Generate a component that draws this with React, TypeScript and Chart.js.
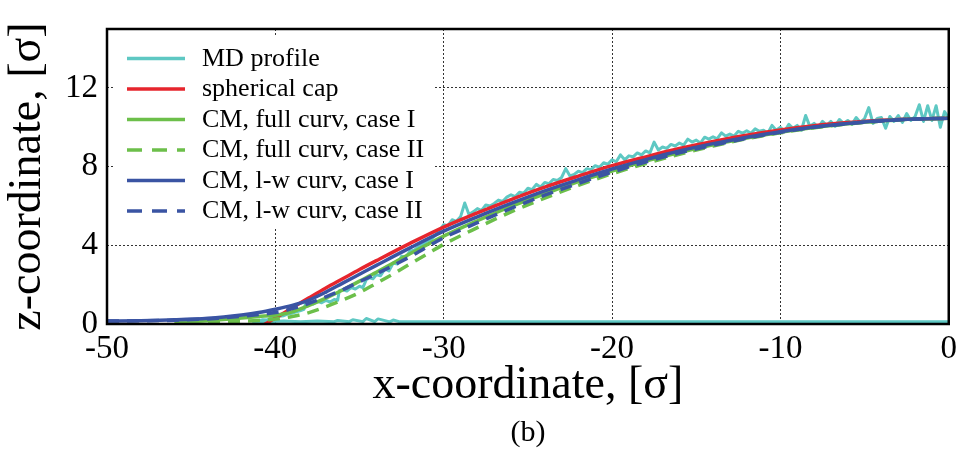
import React, { useEffect, useRef } from 'react';
import { Chart, registerables } from 'chart.js';

Chart.register(...registerables);

const FONT = '"Liberation Serif", "Times New Roman", Times, serif';

const xTicks = [-50, -40, -30, -20, -10, 0];
const yTicks = [0, 4, 8, 12];

const seriesLabels = [
  'MD profile',
  'spherical cap',
  'CM, full curv, case I',
  'CM, full curv, case II',
  'CM, l-w curv, case I',
  'CM, l-w curv, case II',
];

// MD droplet contour: substrate part (right to left), then free surface (left to right)
const mdProfile: number[][] = [
  [0, 0.12], [-4, 0.11], [-8, 0.12], [-12, 0.11], [-16, 0.12], [-20, 0.11], [-24, 0.12], [-28, 0.11],
  [-31, 0.12], [-32.6, 0.11], [-33, 0.2], [-33.2, 0.11], [-33.9, 0.26], [-34.1, 0.12], [-34.6, 0.28],
  [-34.8, 0.12], [-35.4, 0.22], [-35.6, 0.12], [-36.3, 0.18], [-36.5, 0.12], [-37.5, 0.15], [-38.5, 0.12],
  [-39.5, 0.15], [-40.5, 0.12], [-41.3, 0.12],
  [-41, 0.15], [-40.75, 0.22], [-40.5, 0.2], [-40.25, 0.3], [-40, 0.33], [-39.75, 0.4], [-39.5, 0.42],
  [-39.25, 0.52], [-39, 0.55], [-38.75, 0.62], [-38.5, 0.68], [-38.3, 0.75], [-38.2, 1.05], [-38, 1.1],
  [-37.75, 1.02], [-37.5, 1.15], [-37.25, 1.08], [-37, 1.2], [-36.75, 1.12], [-36.5, 1.25], [-36.3, 1.2],
  [-36.2, 1.7], [-36, 1.75], [-35.75, 1.68], [-35.5, 1.85], [-35.25, 1.78], [-35, 1.92], [-34.8, 1.85],
  [-34.6, 2.25], [-34.4, 2.35], [-34.2, 2.3], [-34, 2.5], [-33.75, 2.45], [-33.5, 2.8], [-33.25, 2.7],
  [-33, 3.1], [-32.75, 3.05], [-32.5, 3.45], [-32.25, 3.4], [-32, 3.7], [-31.75, 3.75], [-31.5, 3.95],
  [-31.25, 4.05], [-31, 4.2], [-30.75, 4.3], [-30.5, 4.5], [-30.25, 4.75],
  [-30, 5.05], [-29.75, 5.0], [-29.5, 5.3], [-29.25, 5.22],
  [-29, 5.45], [-28.75, 6.15], [-28.5, 5.57], [-28.25, 5.7],
  [-28, 5.87], [-27.75, 5.77], [-27.5, 6.05], [-27.25, 6.0],
  [-27, 6.13], [-26.75, 6.3], [-26.5, 6.23], [-26.25, 6.45],
  [-26, 6.57], [-25.75, 6.48], [-25.5, 6.7], [-25.25, 6.65],
  [-25, 6.9], [-24.75, 6.83], [-24.5, 7.1], [-24.25, 6.97],
  [-24, 7.2], [-23.75, 7.13], [-23.5, 7.35], [-23.25, 7.3],
  [-23, 7.45], [-22.75, 7.9], [-22.5, 7.53], [-22.25, 7.6],
  [-22, 7.77], [-21.75, 7.7], [-21.5, 7.9], [-21.25, 7.85],
  [-21, 8.05], [-20.75, 7.97], [-20.5, 8.2], [-20.25, 8.13],
  [-20, 8.35], [-19.75, 8.25], [-19.5, 8.6], [-19.25, 8.35],
  [-19, 8.55], [-18.75, 8.5], [-18.5, 8.7], [-18.25, 8.6],
  [-18, 8.8], [-17.75, 8.7], [-17.5, 9.25], [-17.25, 8.85],
  [-17, 9.0], [-16.75, 8.93], [-16.5, 9.13], [-16.25, 9.05],
  [-16, 9.2], [-15.75, 9.1], [-15.5, 9.4], [-15.25, 9.25],
  [-15, 9.35], [-14.75, 9.2], [-14.5, 9.5], [-14.25, 9.4],
  [-14, 9.52], [-13.75, 9.42], [-13.5, 9.72], [-13.25, 9.55],
  [-13, 9.66], [-12.75, 9.56], [-12.5, 9.8], [-12.25, 9.7],
  [-12, 9.83], [-11.75, 9.7], [-11.5, 9.92], [-11.25, 9.8],
  [-11, 9.85], [-10.75, 9.7], [-10.5, 10.1], [-10.25, 9.85],
  [-10, 10.0], [-9.75, 9.8], [-9.5, 10.15], [-9.25, 9.95],
  [-9, 10.1], [-8.75, 9.85], [-8.5, 10.6], [-8.25, 10.05],
  [-8, 10.2], [-7.75, 10.0], [-7.5, 10.3], [-7.25, 10.1],
  [-7, 10.3], [-6.75, 10.05], [-6.5, 10.4], [-6.25, 10.2],
  [-6, 10.35], [-5.75, 10.15], [-5.5, 10.5], [-5.25, 10.25],
  [-5, 10.45], [-4.75, 11.0], [-4.5, 10.2], [-4.25, 10.45],
  [-4, 10.5], [-3.75, 9.95], [-3.5, 10.55], [-3.25, 10.3],
  [-3, 10.6], [-2.75, 10.25], [-2.5, 10.7], [-2.25, 10.35],
  [-2, 10.55], [-1.75, 11.15], [-1.5, 10.3], [-1.25, 11.1],
  [-1, 10.35], [-0.75, 11.1], [-0.5, 10.0], [-0.25, 10.8],
  [0, 10.45],
];

const sphericalCap: number[][] = [
  [-40.7, -0.05], [-40, 0.3], [-39, 0.82], [-38, 1.33], [-37, 1.83], [-36, 2.3], [-35, 2.77], [-34, 3.22],
  [-32, 4.1], [-30, 4.93], [-28, 5.65], [-26, 6.33], [-24, 6.96], [-22, 7.52], [-20, 8.05], [-18, 8.5],
  [-16, 8.92], [-14, 9.28], [-12, 9.6], [-10, 9.87], [-8, 10.08], [-6, 10.24], [-4, 10.36], [-2, 10.43], [0, 10.46],
];

const fullCurvCaseI: number[][] = [
  [-46, 0.08], [-44, 0.17], [-42, 0.3], [-41, 0.38], [-40, 0.45], [-39, 0.62], [-38, 0.95], [-37, 1.32],
  [-36, 1.73], [-35, 2.18], [-34, 2.63], [-32, 3.57], [-30, 4.47], [-28, 5.25], [-26, 5.98], [-24, 6.62],
  [-22, 7.24], [-20, 7.78], [-18, 8.28], [-16, 8.72], [-14, 9.11], [-12, 9.45], [-10, 9.75], [-8, 9.99],
  [-6, 10.18], [-4, 10.32], [-2, 10.42], [0, 10.46],
];

const fullCurvCaseII: number[][] = [
  [-44, 0.1], [-42, 0.14], [-41, 0.18], [-40, 0.25], [-39, 0.38], [-38, 0.58], [-37, 0.88], [-36, 1.22],
  [-35, 1.6], [-34, 2.07], [-33, 2.55], [-32, 3.05], [-31, 3.55], [-30, 4.05], [-28, 4.9], [-26, 5.7],
  [-24, 6.4], [-22, 7.05], [-20, 7.64], [-18, 8.16], [-16, 8.63], [-14, 9.05], [-12, 9.42], [-10, 9.72],
  [-8, 9.98], [-6, 10.17], [-4, 10.32], [-2, 10.42], [0, 10.46],
];

const lwCurvCaseI: number[][] = [
  [-50, 0.15], [-48, 0.17], [-46, 0.21], [-44, 0.29], [-42, 0.46], [-41, 0.58], [-40, 0.75], [-39, 0.95],
  [-38, 1.22], [-37, 1.62], [-36, 2.08], [-35, 2.53], [-34, 2.98], [-32, 3.87], [-30, 4.72], [-28, 5.45],
  [-26, 6.13], [-24, 6.77], [-22, 7.34], [-20, 7.88], [-18, 8.36], [-16, 8.8], [-14, 9.17], [-12, 9.5],
  [-10, 9.78], [-8, 10.02], [-6, 10.2], [-4, 10.33], [-2, 10.42], [0, 10.46],
];

const lwCurvCaseII: number[][] = [
  [-50, 0.15], [-48, 0.16], [-46, 0.19], [-44, 0.26], [-42, 0.39], [-41, 0.48], [-40, 0.58], [-39, 0.78],
  [-38, 1.05], [-37, 1.38], [-36, 1.74], [-35, 2.15], [-34, 2.55], [-32, 3.42], [-30, 4.38], [-28, 5.15],
  [-26, 5.88], [-24, 6.55], [-22, 7.15], [-20, 7.72], [-18, 8.24], [-16, 8.7], [-14, 9.09], [-12, 9.44],
  [-10, 9.75], [-8, 10.0], [-6, 10.18], [-4, 10.32], [-2, 10.42], [0, 10.46],
];

const COLORS = {
  md: '#5ec8c3',
  red: '#e6252d',
  green: '#6cbf4a',
  blue: '#3a54a3',
};

const toXY = (arr: number[][]) => arr.map(([x, y]) => ({ x, y }));

const overlayPlugin = {
  id: 'overlay',
  beforeDatasetsDraw(chart: any) {
    const { ctx, chartArea: a } = chart;
    ctx.save();
    // legend box (covers the grid, sits under the data)
    ctx.fillStyle = '#ffffff';
    ctx.fillRect(a.left + 8, a.top + 8, 318, 190);
    chart.data.datasets.forEach((ds: any, i: number) => {
      const y = a.top + 29.5 + i * 30.5;
      ctx.beginPath();
      ctx.setLineDash(ds.borderDash ? [15, 10] : []);
      ctx.strokeStyle = ds.borderColor;
      ctx.lineWidth = 3.5;
      ctx.moveTo(a.left + 20, y);
      ctx.lineTo(a.left + 78, y);
      ctx.stroke();
      ctx.setLineDash([]);
      ctx.fillStyle = '#000';
      ctx.font = `26px ${FONT}`;
      ctx.textBaseline = 'alphabetic';
      ctx.textAlign = 'left';
      ctx.fillText(ds.label, a.left + 95, y + 7);
    });
    ctx.restore();
  },
  afterDatasetsDraw(chart: any) {
    const { ctx, chartArea: a } = chart;
    ctx.save();
    ctx.strokeStyle = '#000';
    ctx.lineWidth = 2.5;
    ctx.strokeRect(a.left, a.top, a.right - a.left, a.bottom - a.top);
    ctx.restore();
  },
  afterDraw(chart: any) {
    const { ctx, chartArea: a } = chart;
    ctx.save();
    ctx.fillStyle = '#000';
    ctx.font = `30px ${FONT}`;
    ctx.textAlign = 'center';
    ctx.textBaseline = 'alphabetic';
    ctx.fillText('(b)', (a.left + a.right) / 2, 441);
    ctx.restore();
  },
};

export default function App() {
  const ref = useRef<HTMLCanvasElement | null>(null);

  useEffect(() => {
    if (!ref.current) return;
    const base = {
      pointRadius: 0,
      pointHoverRadius: 0,
      fill: false,
      borderWidth: 3.5,
    };
    const chart = new Chart(ref.current, {
      type: 'line',
      data: {
        datasets: [
          { ...base, label: seriesLabels[0], data: toXY(mdProfile), borderColor: COLORS.md, borderWidth: 3, tension: 0, borderJoinStyle: 'round', order: 6 },
          { ...base, label: seriesLabels[1], data: toXY(sphericalCap), borderColor: COLORS.red, cubicInterpolationMode: 'monotone', order: 5 },
          { ...base, label: seriesLabels[2], data: toXY(fullCurvCaseI), borderColor: COLORS.green, cubicInterpolationMode: 'monotone', order: 4 },
          { ...base, label: seriesLabels[3], data: toXY(fullCurvCaseII), borderColor: COLORS.green, borderDash: [12, 8], cubicInterpolationMode: 'monotone', order: 3 },
          { ...base, label: seriesLabels[4], data: toXY(lwCurvCaseI), borderColor: COLORS.blue, cubicInterpolationMode: 'monotone', order: 1 },
          { ...base, label: seriesLabels[5], data: toXY(lwCurvCaseII), borderColor: COLORS.blue, borderDash: [12, 8], cubicInterpolationMode: 'monotone', order: 2 },
        ] as any,
      },
      options: {
        animation: false,
        responsive: true,
        maintainAspectRatio: false,
        layout: { padding: { top: 29, right: 10, left: 0, bottom: 0 } },
        plugins: {
          legend: { display: false },
          tooltip: { enabled: false },
        },
        scales: {
          x: {
            type: 'linear',
            min: -50,
            max: 0,
            afterBuildTicks: (s: any) => { s.ticks = xTicks.map((v) => ({ value: v })); },
            afterFit: (s: any) => { s.height = 126; },
            ticks: {
              color: '#000',
              font: { family: FONT, size: 33 },
              padding: 6,
              maxRotation: 0,
              autoSkip: false,
            },
            grid: { color: '#333', lineWidth: 1, drawTicks: false },
            border: { display: false, dash: [2, 2] },
            title: {
              display: true,
              text: 'x-coordinate, [σ]',
              color: '#000',
              font: { family: FONT, size: 46 },
              padding: { top: 0, bottom: 36 },
            },
          },
          y: {
            type: 'linear',
            min: 0,
            max: 15,
            afterBuildTicks: (s: any) => { s.ticks = yTicks.map((v) => ({ value: v })); },
            afterFit: (s: any) => { s.width = 107; },
            ticks: {
              color: '#000',
              font: { family: FONT, size: 33 },
              padding: 9,
              autoSkip: false,
            },
            grid: { color: '#333', lineWidth: 1, drawTicks: false },
            border: { display: false, dash: [2, 2] },
            title: {
              display: true,
              text: 'z-coordinate, [σ]',
              color: '#000',
              font: { family: FONT, size: 46 },
              padding: { top: 0, bottom: 0 },
            },
          },
        },
      } as any,
      plugins: [overlayPlugin],
    });
    return () => chart.destroy();
  }, []);

  return (
    <div style={{ position: 'fixed', left: 0, top: 0, width: 963, height: 450, background: '#fff' }}>
      <canvas ref={ref} />
    </div>
  );
}
